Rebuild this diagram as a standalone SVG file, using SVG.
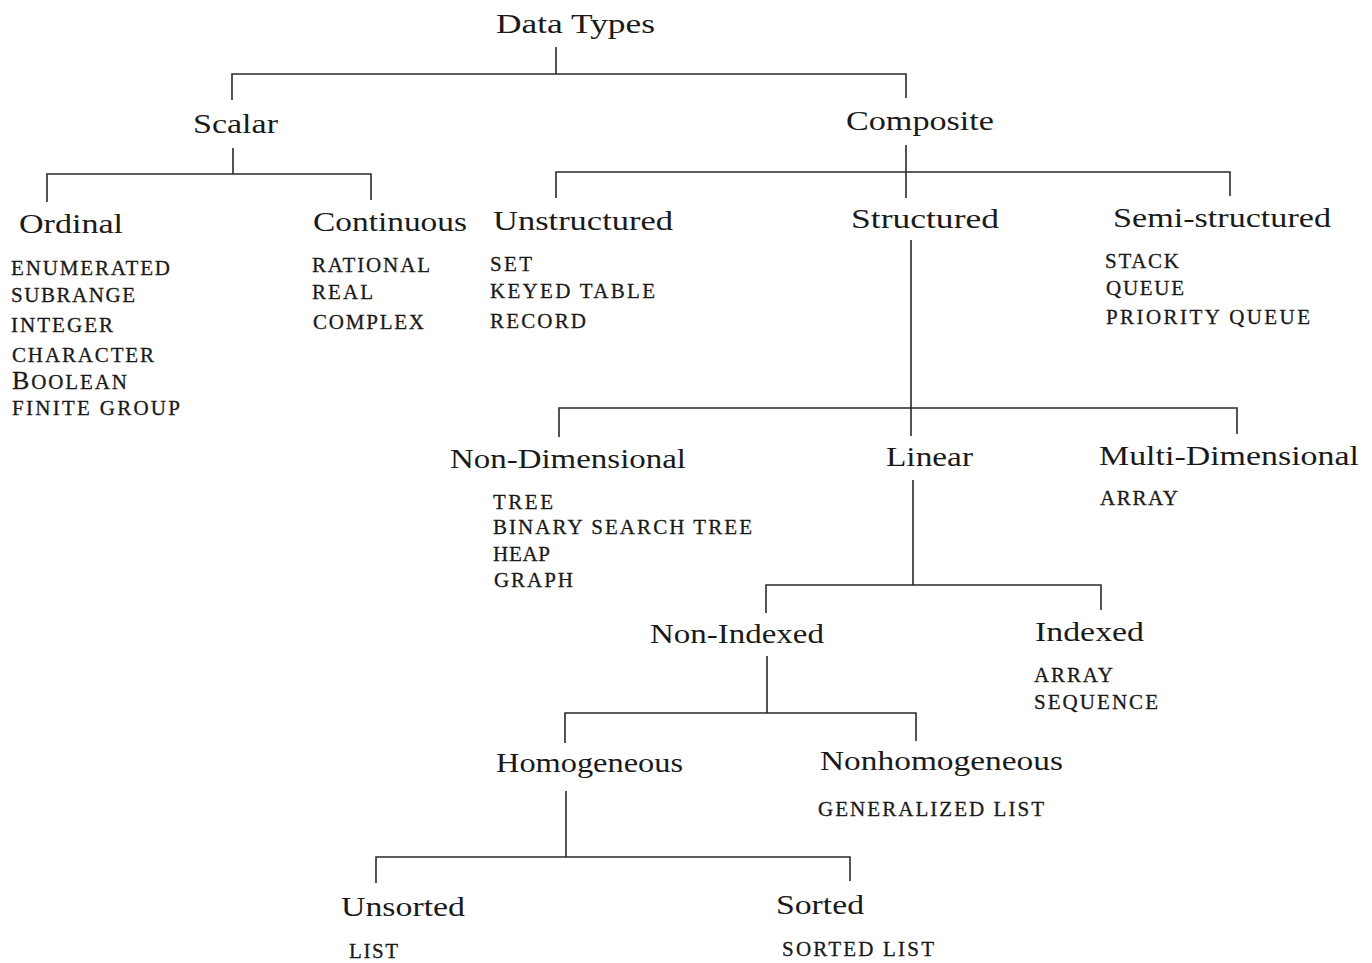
<svg xmlns="http://www.w3.org/2000/svg" width="1372" height="963" viewBox="0 0 1372 963">
<style>
text{font-family:"Liberation Serif","Times New Roman",serif;fill:#1a1a1a}
.n{font-size:28px}
.s{font-size:21px;stroke:#1a1a1a;stroke-width:0.3}
.c path{fill:none;stroke:#2a2a2a;stroke-width:1.6}
</style>
<rect width="1372" height="963" fill="#fff"/>
<g class="c" id="connectors">
<path d="M556,47V74M232,100V74H906V98"/>
<path d="M233,148V174M47,202V174H371V200"/>
<path d="M906,145V198M556,198V172H1230V196"/>
<path d="M911,240V436M559,437V408H1237V434"/>
<path d="M913,480V585M766,613V585H1101V610"/>
<path d="M767,656V713M565,743V713H916V741"/>
<path d="M566,791V857M376,883V857H850V881"/>
</g>
<g id="datatypes"><text class="n" x="496" y="33" textLength="159" lengthAdjust="spacingAndGlyphs">Data Types</text></g>
<g id="scalar"><text class="n" x="193" y="133" textLength="85" lengthAdjust="spacingAndGlyphs">Scalar</text></g>
<g id="composite"><text class="n" x="846" y="130" textLength="148" lengthAdjust="spacingAndGlyphs">Composite</text></g>
<g id="ordinal">
<text class="n" x="19" y="233" textLength="104" lengthAdjust="spacingAndGlyphs">Ordinal</text>
<text class="s" x="11" y="275" textLength="159" lengthAdjust="spacing">ENUMERATED</text>
<text class="s" x="11" y="302" textLength="124" lengthAdjust="spacing">SUBRANGE</text>
<text class="s" x="11" y="332" textLength="102" lengthAdjust="spacing">INTEGER</text>
<text class="s" x="12" y="362" textLength="142" lengthAdjust="spacing">CHARACTER</text>
<text class="s" x="12" y="389" textLength="115" lengthAdjust="spacing"><tspan font-size="26">B</tspan>OOLEAN</text>
<text class="s" x="12" y="415" textLength="168" lengthAdjust="spacing">FINITE GROUP</text>
</g>
<g id="continuous">
<text class="n" x="313" y="231" textLength="154" lengthAdjust="spacingAndGlyphs">Continuous</text>
<text class="s" x="312" y="272" textLength="118" lengthAdjust="spacing">RATIONAL</text>
<text class="s" x="312" y="299" textLength="61" lengthAdjust="spacing">REAL</text>
<text class="s" x="313" y="329" textLength="111" lengthAdjust="spacing">COMPLEX</text>
</g>
<g id="unstructured">
<text class="n" x="493" y="230" textLength="180" lengthAdjust="spacingAndGlyphs">Unstructured</text>
<text class="s" x="490" y="271" textLength="42" lengthAdjust="spacing">SET</text>
<text class="s" x="490" y="298" textLength="165" lengthAdjust="spacing">KEYED TABLE</text>
<text class="s" x="490" y="328" textLength="96" lengthAdjust="spacing">RECORD</text>
</g>
<g id="structured"><text class="n" x="851" y="228" textLength="148" lengthAdjust="spacingAndGlyphs">Structured</text></g>
<g id="semistructured">
<text class="n" x="1113" y="227" textLength="218" lengthAdjust="spacingAndGlyphs">Semi-structured</text>
<text class="s" x="1105" y="268" textLength="74" lengthAdjust="spacing">STACK</text>
<text class="s" x="1106" y="295" textLength="78" lengthAdjust="spacing">QUEUE</text>
<text class="s" x="1106" y="324" textLength="204" lengthAdjust="spacing">PRIORITY QUEUE</text>
</g>
<g id="nondimensional">
<text class="n" x="450" y="468" textLength="236" lengthAdjust="spacingAndGlyphs">Non-Dimensional</text>
<text class="s" x="493" y="509" textLength="60" lengthAdjust="spacing">TREE</text>
<text class="s" x="493" y="534" textLength="259" lengthAdjust="spacing">BINARY SEARCH TREE</text>
<text class="s" x="493" y="561" textLength="57" lengthAdjust="spacing">HEAP</text>
<text class="s" x="494" y="587" textLength="79" lengthAdjust="spacing">GRAPH</text>
</g>
<g id="linear"><text class="n" x="886" y="466" textLength="87" lengthAdjust="spacingAndGlyphs">Linear</text></g>
<g id="multidimensional">
<text class="n" x="1099" y="465" textLength="260" lengthAdjust="spacingAndGlyphs">Multi-Dimensional</text>
<text class="s" x="1100" y="505" textLength="78" lengthAdjust="spacing">ARRAY</text>
</g>
<g id="nonindexed"><text class="n" x="650" y="643" textLength="174" lengthAdjust="spacingAndGlyphs">Non-Indexed</text></g>
<g id="indexed">
<text class="n" x="1035" y="641" textLength="109" lengthAdjust="spacingAndGlyphs">Indexed</text>
<text class="s" x="1034" y="682" textLength="79" lengthAdjust="spacing">ARRAY</text>
<text class="s" x="1034" y="709" textLength="124" lengthAdjust="spacing">SEQUENCE</text>
</g>
<g id="homogeneous"><text class="n" x="496" y="772" textLength="187" lengthAdjust="spacingAndGlyphs">Homogeneous</text></g>
<g id="nonhomogeneous">
<text class="n" x="820" y="770" textLength="243" lengthAdjust="spacingAndGlyphs">Nonhomogeneous</text>
<text class="s" x="818" y="816" textLength="226" lengthAdjust="spacing">GENERALIZED LIST</text>
</g>
<g id="unsorted">
<text class="n" x="341" y="916" textLength="124" lengthAdjust="spacingAndGlyphs">Unsorted</text>
<text class="s" x="349" y="958" textLength="49" lengthAdjust="spacing">LIST</text>
</g>
<g id="sorted">
<text class="n" x="776" y="914" textLength="88" lengthAdjust="spacingAndGlyphs">Sorted</text>
<text class="s" x="782" y="956" textLength="152" lengthAdjust="spacing">SORTED LIST</text>
</g>
</svg>
